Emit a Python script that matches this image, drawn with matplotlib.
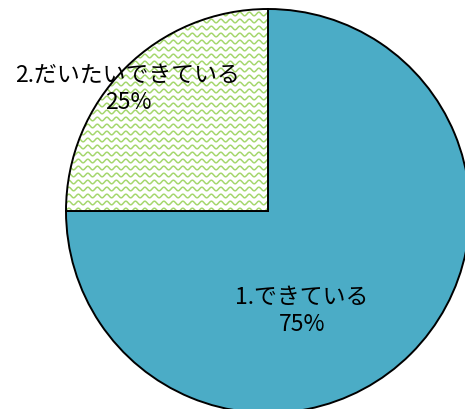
import matplotlib.pyplot as plt
from matplotlib.patches import Wedge
import numpy as np

labels = ["1.できている", "2.だいたいできている"]
shares = [75, 25]
colors = ["#4BACC6", "white"]

plt.rcParams["font.family"] = ["Noto Sans CJK JP", "DejaVu Sans"]

W, H = 465, 410
fig = plt.figure(figsize=(W / 100, H / 100), dpi=100)
ax = fig.add_axes([0, 0, 1, 1])

cx, cy, r = 268, H - 212, 202
wedges, _ = ax.pie(
    shares,
    colors=colors,
    startangle=90,
    counterclock=False,
    center=(cx, cy),
    radius=r,
    frame=True,
    wedgeprops={"edgecolor": "black", "linewidth": 1.4},
)
ax.set_xlim(0, W)
ax.set_ylim(0, H)
ax.set_aspect("equal")
ax.axis("off")

# wavy fill pattern for the second slice
w2 = wedges[1]
bg = Wedge((cx, cy), r, w2.theta1, w2.theta2, facecolor="white", edgecolor="none", zorder=1)
ax.add_patch(bg)
xs = np.linspace(cx - r - 10, cx + r + 10, 800)
for y0 in np.arange(cy - r, cy + r, 7.0):
    (ln,) = ax.plot(xs, y0 + 1.8 * np.sin(2 * np.pi * xs / 9.5),
                    color="#A5D76E", lw=1.1, zorder=1.5)
    ln.set_clip_path(bg)
w2.set_facecolor("none")
w2.set_zorder(2)

ax.text(cx + 34, cy - 99, f"{labels[0]}\n{shares[0]}%", ha="center", va="center",
        fontsize=16.5, linespacing=1.2, zorder=3)
ax.text(cx - 140, cy + 123, f"{labels[1]}\n{shares[1]}%", ha="center", va="center",
        fontsize=16.5, linespacing=1.2, zorder=3)

fig.savefig("out.png", dpi=100)
